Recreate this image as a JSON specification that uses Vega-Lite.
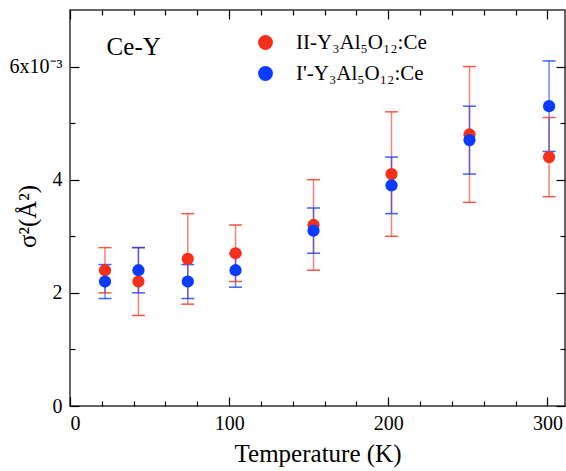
{
  "$schema": "https://vega.github.io/schema/vega-lite/v6.json",
  "width": 495,
  "height": 396,
  "autosize": {"type": "none"},
  "padding": {"left": 70, "top": 10, "right": 1, "bottom": 65},
  "background": "white",
  "config": {
    "view": {"stroke": "#333333", "strokeWidth": 1.5},
    "font": "Liberation Serif",
    "axis": {
      "domain": false,
      "grid": false,
      "tickColor": "black",
      "tickWidth": 1.2,
      "labelFont": "Liberation Serif",
      "labelFontSize": 20,
      "labelColor": "black",
      "titleFont": "Liberation Serif",
      "titleFontWeight": "normal",
      "titleFontSize": 25,
      "titleColor": "black"
    }
  },
  "data": {
    "values": [
      {"series": "II-Y₃Al₅O₁₂:Ce", "T": 22, "s": 2.4, "lo": 2.0, "hi": 2.8},
      {"series": "II-Y₃Al₅O₁₂:Ce", "T": 43, "s": 2.2, "lo": 1.6, "hi": 2.8},
      {"series": "II-Y₃Al₅O₁₂:Ce", "T": 74, "s": 2.6, "lo": 1.8, "hi": 3.4},
      {"series": "II-Y₃Al₅O₁₂:Ce", "T": 104, "s": 2.7, "lo": 2.2, "hi": 3.2},
      {"series": "II-Y₃Al₅O₁₂:Ce", "T": 153, "s": 3.2, "lo": 2.4, "hi": 4.0},
      {"series": "II-Y₃Al₅O₁₂:Ce", "T": 202, "s": 4.1, "lo": 3.0, "hi": 5.2},
      {"series": "II-Y₃Al₅O₁₂:Ce", "T": 251, "s": 4.8, "lo": 3.6, "hi": 6.0},
      {"series": "II-Y₃Al₅O₁₂:Ce", "T": 301, "s": 4.4, "lo": 3.7, "hi": 5.1},
      {"series": "I'-Y₃Al₅O₁₂:Ce", "T": 22, "s": 2.2, "lo": 1.9, "hi": 2.5},
      {"series": "I'-Y₃Al₅O₁₂:Ce", "T": 43, "s": 2.4, "lo": 2.0, "hi": 2.8},
      {"series": "I'-Y₃Al₅O₁₂:Ce", "T": 74, "s": 2.2, "lo": 1.9, "hi": 2.5},
      {"series": "I'-Y₃Al₅O₁₂:Ce", "T": 104, "s": 2.4, "lo": 2.1, "hi": 2.7},
      {"series": "I'-Y₃Al₅O₁₂:Ce", "T": 153, "s": 3.1, "lo": 2.7, "hi": 3.5},
      {"series": "I'-Y₃Al₅O₁₂:Ce", "T": 202, "s": 3.9, "lo": 3.4, "hi": 4.4},
      {"series": "I'-Y₃Al₅O₁₂:Ce", "T": 251, "s": 4.7, "lo": 4.1, "hi": 5.3},
      {"series": "I'-Y₃Al₅O₁₂:Ce", "T": 301, "s": 5.3, "lo": 4.5, "hi": 6.1}
    ]
  },
  "layer": [
    {
      "mark": {"type": "rule", "strokeWidth": 1.5, "opacity": 0.6},
      "encoding": {
        "x": {
          "field": "T", "type": "quantitative",
          "scale": {"domain": [0, 311], "nice": false, "zero": false},
          "axis": {
            "orient": "bottom",
            "title": "Temperature (K)",
            "values": [0, 20, 40, 60, 80, 100, 120, 140, 160, 180, 200, 220, 240, 260, 280, 300],
            "labelExpr": "datum.value % 100 === 0 ? datum.label : ''",
            "tickSize": {"condition": {"test": "datum.value % 100 === 0", "value": -9}, "value": -5},
            "labelPadding": 16,
            "titlePadding": 8
          }
        },
        "y": {
          "field": "lo", "type": "quantitative",
          "scale": {"domain": [0, 7], "nice": false, "zero": false},
          "axis": {
            "orient": "left",
            "title": "σ²(Å²)",
            "titleX": -30,
            "titleY": 206,
            "titleAngle": -90,
            "titleBaseline": "bottom",
            "titleAlign": "center",
            "values": [0, 1, 2, 3, 4, 5, 6],
            "labelExpr": "datum.value === 6 ? '6x10⁻³' : (datum.value % 2 === 0 ? datum.label : '')",
            "tickSize": {"condition": {"test": "datum.value % 2 === 0", "value": -9}, "value": -5},
            "labelPadding": 17
          }
        },
        "y2": {"field": "hi"},
        "color": {
          "field": "series", "type": "nominal",
          "scale": {"domain": ["II-Y₃Al₅O₁₂:Ce", "I'-Y₃Al₅O₁₂:Ce"], "range": ["#f5301a", "#0a3cff"]},
          "legend": {
            "orient": "none", "legendX": 185, "legendY": 22,
            "title": null, "symbolType": "circle", "symbolSize": 220,
            "symbolOpacity": 1, "symbolStrokeWidth": 0,
            "labelFont": "Liberation Serif", "labelFontSize": 21, "labelColor": "black",
            "labelOffset": 20, "rowPadding": 9, "labelLimit": 300,
            "encode": {"symbols": {"update": {"opacity": {"value": 1}, "fillOpacity": {"value": 1}, "strokeOpacity": {"value": 0}}}}
          }
        }
      }
    },
    {
      "mark": {"type": "tick", "orient": "horizontal", "size": 13, "thickness": 1.5, "opacity": 0.8},
      "encoding": {
        "x": {"field": "T", "type": "quantitative", "axis": null},
        "y": {"field": "lo", "type": "quantitative", "axis": null},
        "color": {"field": "series", "type": "nominal"}
      }
    },
    {
      "mark": {"type": "tick", "orient": "horizontal", "size": 13, "thickness": 1.5, "opacity": 0.8},
      "encoding": {
        "x": {"field": "T", "type": "quantitative", "axis": null},
        "y": {"field": "hi", "type": "quantitative", "axis": null},
        "color": {"field": "series", "type": "nominal"}
      }
    },
    {
      "mark": {"type": "circle", "size": 150, "opacity": 1},
      "encoding": {
        "x": {
          "field": "T", "type": "quantitative",
          "axis": {
            "orient": "top", "title": null, "labels": false,
            "values": [0, 20, 40, 60, 80, 100, 120, 140, 160, 180, 200, 220, 240, 260, 280, 300],
            "tickSize": {"condition": {"test": "datum.value % 100 === 0", "value": -9}, "value": -5}
          }
        },
        "y": {
          "field": "s", "type": "quantitative",
          "axis": {
            "orient": "right", "title": null, "labels": false,
            "values": [0, 1, 2, 3, 4, 5, 6],
            "tickSize": {"condition": {"test": "datum.value % 2 === 0", "value": -9}, "value": -5}
          }
        },
        "color": {"field": "series", "type": "nominal"}
      }
    },
    {
      "data": {"values": [{"label": "Ce-Y", "x": 23, "y": 6.35}]},
      "mark": {"type": "text", "align": "left", "baseline": "middle", "fontSize": 25, "font": "Liberation Serif", "color": "black"},
      "encoding": {
        "x": {"field": "x", "type": "quantitative", "axis": null},
        "y": {"field": "y", "type": "quantitative", "axis": null},
        "text": {"field": "label"}
      }
    }
  ],
  "resolve": {"axis": {"x": "independent", "y": "independent"}}
}
